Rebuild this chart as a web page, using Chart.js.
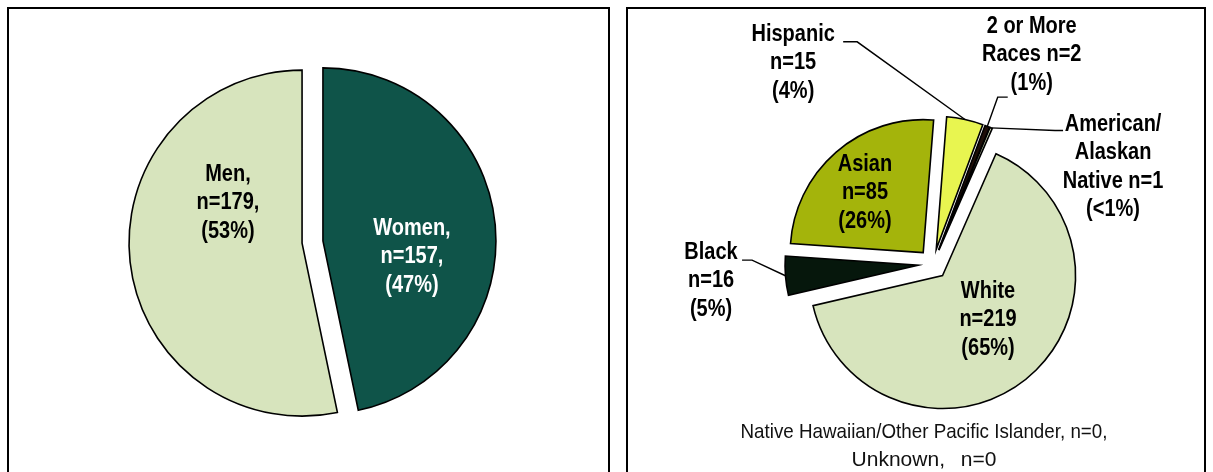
<!DOCTYPE html>
<html>
<head>
<meta charset="utf-8">
<script src="https://cdn.jsdelivr.net/npm/chart.js@4.4.1/dist/chart.umd.min.js"></script>
<style>
  html, body { margin: 0; padding: 0; background: #fff; overflow: hidden; }
  body { width: 1213px; height: 472px; position: relative; font-family: "Liberation Sans", Arial, sans-serif; }
  .panel { position: absolute; top: 7px; height: 480px; border: 2px solid #000; box-sizing: border-box; }
  #genderPanel { left: 7px; width: 603px; }
  #racePanel { left: 626px; width: 580px; }
  canvas { position: absolute; }
  #genderChart { left: 10px; top: 10px; }
  #raceChart { left: 630px; top: 10px; }
  .note { position: absolute; left: 674px; width: 500px; text-align: center; color: #111; white-space: nowrap; }
  #note1 { top: 420px; font-size: 18.8px; transform: scaleY(1.1); }
  #note2 { top: 447px; font-size: 21px; word-spacing: 10px; }
</style>
</head>
<body>
<div class="panel" id="genderPanel"></div>
<div class="panel" id="racePanel"></div>
<canvas id="genderChart" width="597" height="462"></canvas>
<canvas id="raceChart" width="574" height="462"></canvas>
<div class="note" id="note1">Native Hawaiian/Other Pacific Islander, n=0,</div>
<div class="note" id="note2">Unknown, n=0</div>

<script>
// gender split (clockwise from 12 o'clock)
const genderNames = ['Women', 'Men'];
const genderCounts = [157, 179];
const genderPct = ['47%', '53%'];

// race / ethnicity (clockwise from 12 o'clock)
const raceNames = [['Hispanic'], ['2 or More', 'Races'], ['American/', 'Alaskan', 'Native'], ['White'], ['Black'], ['Asian']];
const raceCounts = [15, 2, 1, 219, 16, 85];
const racePct = ['4%', '1%', '<1%', '65%', '5%', '26%'];
const raceInlineN = [false, true, true, false, false, false];

const genderColors = ['#0f5449', '#d7e4bd'];
const raceColors = ['#e8f550', '#1e0e08', '#d7e4bd', '#d7e4bd', '#06170c', '#a4b40b'];

// exploded slices: plain wedge pushed out along its mid angle
Chart.elements.ArcElement.prototype.draw = function (ctx) {
  const o = this.options;
  const mid = (this.startAngle + this.endAngle) / 2;
  const cx = this.x + Math.cos(mid) * (o.offset || 0);
  const cy = this.y + Math.sin(mid) * (o.offset || 0);
  ctx.save();
  ctx.beginPath();
  ctx.moveTo(cx, cy);
  ctx.arc(cx, cy, this.outerRadius, this.startAngle, this.endAngle);
  ctx.closePath();
  ctx.fillStyle = o.backgroundColor;
  ctx.fill();
  ctx.lineWidth = o.borderWidth;
  ctx.strokeStyle = o.borderColor;
  ctx.lineJoin = 'miter';
  ctx.stroke();
  ctx.restore();
};

function labelPlugin(cfg) {
  return {
    id: 'pieLabels',
    afterDatasetsDraw(chart) {
      const ctx = chart.ctx;
      const arcs = chart.getDatasetMeta(0).data;
      ctx.save();
      ctx.font = 'bold 20px "Liberation Sans", Arial, sans-serif';
      ctx.textAlign = 'center';
      ctx.textBaseline = 'middle';
      arcs.forEach((arc, i) => {
        const p = cfg.place[i];
        const a = (p[0] - 90) * Math.PI / 180;
        const lx = arc.x + Math.cos(a) * p[1];
        const ly = arc.y + Math.sin(a) * p[1];
        const ld = cfg.leaders ? cfg.leaders[i] : null;
        if (ld) {
          const mid = (arc.startAngle + arc.endAngle) / 2;
          const rr = arc.outerRadius + (arc.options.offset || 0);
          ctx.beginPath();
          ctx.moveTo(arc.x + Math.cos(mid) * rr, arc.y + Math.sin(mid) * rr);
          ctx.lineTo(lx + ld[0], ly + ld[1]);
          ctx.lineTo(lx + ld[0] + ld[2], ly + ld[1]);
          ctx.lineWidth = 1.4;
          ctx.strokeStyle = '#000';
          ctx.stroke();
        }
        const lines = cfg.lines[i];
        ctx.fillStyle = cfg.colors[i];
        lines.forEach((t, k) => {
          // the source text is a bit taller than plain Arial
          ctx.save();
          ctx.translate(lx, ly + (k - (lines.length - 1) / 2) * 28.5);
          ctx.scale(1, 1.15);
          ctx.fillText(t, 0, 0);
          ctx.restore();
        });
      });
      ctx.restore();
    }
  };
}

const genderLines = genderNames.map((n, i) => [n + ',', 'n=' + genderCounts[i] + ',', '(' + genderPct[i] + ')']);
const raceLines = raceNames.map((n, i) => {
  const l = n.slice();
  if (raceInlineN[i]) l[l.length - 1] += ' n=' + raceCounts[i];
  else l.push('n=' + raceCounts[i]);
  l.push('(' + racePct[i] + ')');
  return l;
});

new Chart(document.getElementById('genderChart'), {
  type: 'pie',
  data: {
    labels: genderNames,
    datasets: [{
      data: genderCounts,
      backgroundColor: genderColors,
      borderColor: '#000',
      borderWidth: 1.6,
      offset: 10.5
    }]
  },
  options: {
    responsive: false,
    animation: false,
    events: [],
    radius: 173,
    layout: { padding: { left: 8, top: 2 } },
    plugins: { legend: { display: false }, tooltip: { enabled: false } }
  },
  plugins: [labelPlugin({
    lines: genderLines,
    colors: ['#fff', '#000'],
    place: [[98.6, 100.6], [294.8, 93.1]]
  })]
});

new Chart(document.getElementById('raceChart'), {
  type: 'pie',
  data: {
    labels: raceNames.map(n => n.join(' ')),
    datasets: [{
      data: raceCounts,
      backgroundColor: raceColors,
      borderColor: '#000',
      borderWidth: 1.6,
      offset: 15
    }]
  },
  options: {
    responsive: false,
    animation: false,
    events: [],
    rotation: 4.5,
    radius: 133,
    layout: { padding: { left: 32, top: 46 } },
    plugins: { legend: { display: false }, tooltip: { enabled: false } }
  },
  plugins: [labelPlugin({
    lines: raceLines,
    colors: ['#000', '#000', '#000', '#000', '#000', '#000'],
    place: [[325.2, 245], [25.3, 231], [61.7, 204.5], [135.5, 78.5], [265.6, 222.6], [316.2, 98.3]],
    leaders: [[64, -21, -14], [-34, 42, 10], [-58, -36.5, 8], null, [41, -21, -10], null]
  })]
});
</script>
</body>
</html>
